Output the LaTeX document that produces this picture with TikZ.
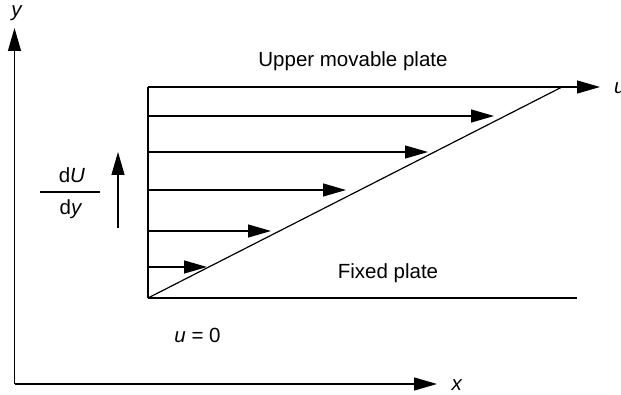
\documentclass[tikz,border=0pt]{standalone}
\usepackage{fontspec}
\setmainfont{Liberation Sans}
\usetikzlibrary{arrows.meta}
\begin{document}
\begin{tikzpicture}[x=1pt,y=-1pt,
  ln/.style={line width=1.2pt},
  arr/.style={ln,-{Triangle[length=23pt,width=13pt]}},
  lbl/.style={inner sep=0pt,font=\fontsize{20.5}{24}\selectfont}]
\useasboundingbox (0,0) rectangle (621,395);
% axes
\coordinate (O) at (14.5,384);
\coordinate (Ytip) at (14.5,28);
\coordinate (Xtip) at (437,384);
\draw[arr] (O) -- (Ytip);
\draw[arr] (O) -- (Xtip);
\node[lbl] (ylab) at (17,13) {\textit{y}};
\node[lbl] (xlab) at (457,385) {\textit{x}};
% plates
\coordinate (TL) at (148,87);
\coordinate (BL) at (148,298);
\coordinate (TR) at (600,87);
\coordinate (BR) at (577,298);
\coordinate (D) at (562,87);
\draw[ln] (BL) -- (TL);
\draw[arr] (TL) -- (TR);
\draw[ln] (BL) -- (BR);
\draw[ln] (BL) -- (D);
\node[lbl,anchor=west] (ulab) at (614,88) {\textit{u}};
% velocity arrows
\foreach \yy/\xx [count=\i] in {116/494,152/428,190/346,231/271,267/207}{
  \coordinate (s\i) at (148,\yy);
  \coordinate (t\i) at (\xx,\yy);
  \draw[arr] (s\i) -- (t\i);
}
% labels
\node[lbl] (upper) at (353,61) {Upper movable plate};
\node[lbl] (fixed) at (388,273) {Fixed plate};
\node[lbl] (uzero) at (197.5,335) {\textit{u} = 0};
% gradient
\node[lbl] (dU) at (72,175) {d\textit{U}};
\node[lbl] (dy) at (71,209) {d\textit{y}};
\coordinate (bar1) at (40,192);
\coordinate (bar2) at (100,192);
\draw[ln] (bar1) -- (bar2);
\coordinate (g1) at (118,228);
\coordinate (g2) at (118,152);
\draw[arr] (g1) -- (g2);
\end{tikzpicture}
\end{document}
